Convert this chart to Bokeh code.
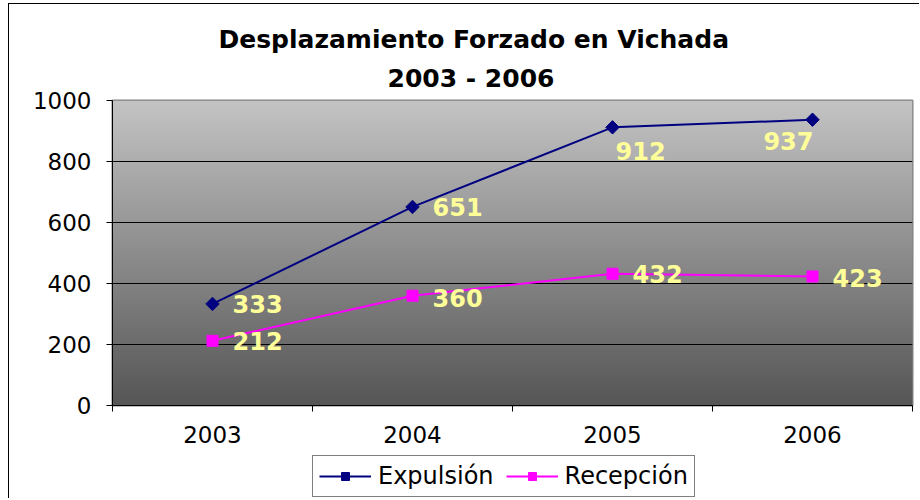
import numpy as np
from bokeh.plotting import figure
from bokeh.layouts import column
from bokeh.models import ColumnDataSource, FixedTicker, Range1d, Title, Legend, LegendItem
from bokeh.core.properties import value
from bokeh.embed import file_html
from bokeh.resources import INLINE

# ---- data ----
years = ["2003", "2004", "2005", "2006"]
expulsion = [333, 651, 912, 937]
recepcion = [212, 360, 432, 423]
y_ticks = [0, 200, 400, 600, 800, 1000]

# label placement styles (pixels)
exp_dx = [20, 20, 3, 1]
exp_dy = [0, 0, 24, 21]
exp_align = ["left", "left", "left", "right"]
rec_dx = [20, 20, 20, 20]
rec_dy = [0, 2, 0, 2]

FONT = "DejaVu Sans"
NAVY = "#000080"
MAGENTA = "#ff00ff"
xs = [i + 0.5 for i in range(len(years))]

p = figure(width=910, height=448, output_backend="svg", toolbar_location=None,
           x_range=Range1d(0, len(years)), y_range=Range1d(0, 1000), title=None,
           min_border_left=103, min_border_right=7, min_border_top=96, min_border_bottom=47,
           background_fill_color="white", border_fill_color="white")

# gradient background of the plot area
n = 256
shade = np.linspace(86, 196, n).astype(np.uint8)
img = np.empty((n, 1), dtype=np.uint32)
view = img.view(dtype=np.uint8).reshape((n, 1, 4))
view[:, 0, 0] = shade
view[:, 0, 1] = shade
view[:, 0, 2] = shade
view[:, 0, 3] = 255
p.image_rgba(image=[img], x=0, y=0, dw=len(years), dh=1000, level="image")

p.outline_line_color = "#808080"
p.outline_line_width = 2

p.xgrid.visible = False
p.ygrid.ticker = FixedTicker(ticks=y_ticks)
p.ygrid.grid_line_color = "black"
p.ygrid.grid_line_width = 1

p.yaxis.ticker = FixedTicker(ticks=y_ticks)
p.yaxis.major_label_text_font = FONT
p.yaxis.major_label_text_font_size = "23px"
p.yaxis.major_label_text_color = "black"
p.yaxis.major_tick_in = 0
p.yaxis.major_tick_out = 6
p.yaxis.minor_tick_line_color = None
p.yaxis.axis_line_color = "black"
p.yaxis.major_label_standoff = 15

p.xaxis.ticker = FixedTicker(ticks=xs, minor_ticks=list(range(len(years) + 1)))
p.xaxis.major_label_overrides = {x: y for x, y in zip(xs, years)}
p.xaxis.major_tick_line_color = None
p.xaxis.minor_tick_in = 0
p.xaxis.minor_tick_out = 6
p.xaxis.minor_tick_line_color = "black"
p.xaxis.axis_line_color = "black"
p.xaxis.major_label_text_font = FONT
p.xaxis.major_label_text_font_size = "23px"
p.xaxis.major_label_text_color = "black"
p.xaxis.major_label_standoff = 14

src_e = ColumnDataSource(dict(x=xs, y=expulsion, t=[str(v) for v in expulsion],
                              dx=exp_dx, dy=exp_dy, al=exp_align))
src_r = ColumnDataSource(dict(x=xs, y=recepcion, t=[str(v) for v in recepcion],
                              dx=rec_dx, dy=rec_dy))

p.line("x", "y", source=src_e, line_color=NAVY, line_width=2)
p.scatter("x", "y", source=src_e, marker="square", size=9.5, angle=np.pi / 4,
          fill_color=NAVY, line_color=NAVY)
p.line("x", "y", source=src_r, line_color=MAGENTA, line_width=2)
p.scatter("x", "y", source=src_r, marker="square", size=11,
          fill_color=MAGENTA, line_color=MAGENTA)

p.text("x", "y", text="t", source=src_e, x_offset="dx", y_offset="dy", text_align="al",
       text_baseline="middle", text_color="#ffff99", text_font=value(FONT),
       text_font_size="24px", text_font_style="bold")
p.text("x", "y", text="t", source=src_r, x_offset="dx", y_offset="dy", text_align="left",
       text_baseline="middle", text_color="#ffff99", text_font=value(FONT),
       text_font_size="24px", text_font_style="bold")

t2 = Title(text="2003 - 2006", align="left", text_font=FONT, text_font_size="25px",
           text_font_style="bold", text_color="black", offset=275, standoff=16)
t1 = Title(text="Desplazamiento Forzado en Vichada", align="left", text_font=FONT,
           text_font_size="25px", text_font_style="bold", text_color="black",
           offset=106, standoff=0)
p.add_layout(t2, "above")
p.add_layout(t1, "above")

# legend strip below the chart (same series; their points lie outside this strip's range)
pl = figure(width=910, height=46, output_backend="svg", toolbar_location=None,
            x_range=Range1d(0, 1), y_range=Range1d(0, 1), title=None,
            min_border=0, min_border_left=103, min_border_right=7,
            min_border_top=0, min_border_bottom=0,
            background_fill_color="white", border_fill_color="white",
            outline_line_color=None)
pl.axis.visible = False
pl.grid.visible = False
ll1 = pl.line("x", "y", source=src_e, line_color=NAVY, line_width=2)
ls1 = pl.scatter("x", "y", source=src_e, marker="square", size=9.5, angle=np.pi / 4,
                 fill_color=NAVY, line_color=NAVY)
ll2 = pl.line("x", "y", source=src_r, line_color=MAGENTA, line_width=2)
ls2 = pl.scatter("x", "y", source=src_r, marker="square", size=11,
                 fill_color=MAGENTA, line_color=MAGENTA)

legend = Legend(items=[LegendItem(label="Expulsión", renderers=[ll1, ls1]),
                       LegendItem(label="Recepción", renderers=[ll2, ls2])],
                orientation="horizontal", location=(200, 1),
                border_line_color="black", border_line_width=1,
                background_fill_color="white", background_fill_alpha=1,
                label_text_font=FONT, label_text_font_size="24px", label_text_color="black",
                glyph_width=52, glyph_height=20, label_standoff=7, spacing=12,
                padding=6, margin=0)
pl.add_layout(legend, "center")

layout = column(p, pl, spacing=0,
                styles={"margin-left": "8px", "margin-top": "3px",
                        "border-left": "1px solid black", "border-top": "1px solid black"})

open("out.html", "w").write(file_html(layout, INLINE))
